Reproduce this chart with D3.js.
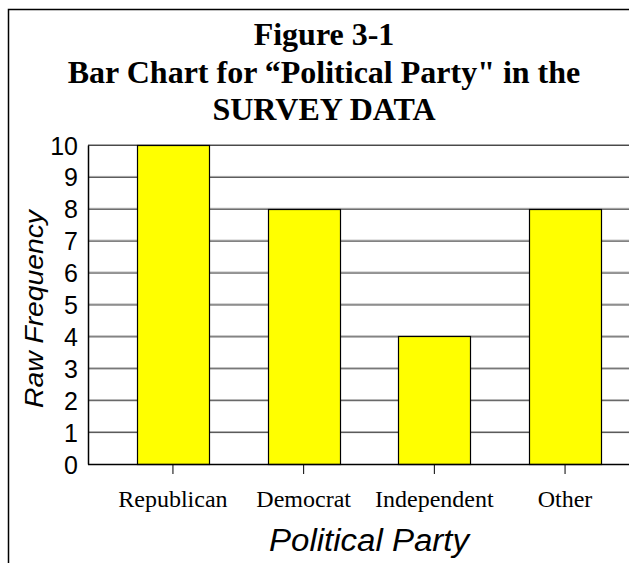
<!DOCTYPE html>
<html>
<head>
<meta charset="utf-8">
<script src="https://cdn.jsdelivr.net/npm/d3@7"></script>
<style>
  html, body { margin: 0; padding: 0; background: #fff; }
  svg { display: block; }
</style>
</head>
<body>
<svg id="chart" width="629" height="563"></svg>
<script>
const categories = ["Republican", "Democrat", "Independent", "Other"];
const frequencies = [10, 8, 4, 8];
const yTicks = [0, 1, 2, 3, 4, 5, 6, 7, 8, 9, 10];
const titleLines = ["Figure 3-1", "Bar Chart for \u201CPolitical Party\" in the", "SURVEY DATA"];
const xTitle = "Political Party";
const yTitle = "Raw Frequency";

const svg = d3.select("#chart");
const W = 629, H = 563;
const plot = { left: 88, top: 145, bottom: 464, right: 629 };

svg.append("rect").attr("width", W).attr("height", H).attr("fill", "#fff");

// outer frame (left + top)
svg.append("path")
  .attr("d", `M8.5,${H} V9.5 H${W}`)
  .attr("fill", "none").attr("stroke", "#000").attr("stroke-width", 1.5);

const x = d3.scaleBand().domain(categories).range([107.6, 630.4])
  .paddingInner(0.45).paddingOuter(0.225);
const y = d3.scaleLinear().domain([0, 10]).range([plot.bottom, plot.top]);

// gridlines (two-tone)
const grid = svg.append("g");
yTicks.filter(d => d > 0).forEach(d => {
  grid.append("line").attr("x1", plot.left).attr("x2", plot.right)
    .attr("y1", y(d) - 0.5).attr("y2", y(d) - 0.5)
    .attr("stroke", "#a8a8a8").attr("stroke-width", 1);
  grid.append("line").attr("x1", plot.left).attr("x2", plot.right)
    .attr("y1", y(d) + 0.5).attr("y2", y(d) + 0.5)
    .attr("stroke", "#4a4a4a").attr("stroke-width", 1);
});

// bars
svg.append("g").selectAll("rect").data(categories).join("rect")
  .attr("x", d => Math.round(x(d)) + 0.5)
  .attr("y", (d, i) => Math.round(y(frequencies[i])) + 0.5)
  .attr("width", Math.round(x.bandwidth()))
  .attr("height", (d, i) => Math.round(y(0)) - Math.round(y(frequencies[i])))
  .attr("fill", "#ffff00")
  .attr("stroke", "#000").attr("stroke-width", 1.2);

// y axis
const yAxis = d3.axisLeft(y).tickValues(yTicks).tickSize(0).tickPadding(10)
  .tickFormat(d3.format("d"));
const gy = svg.append("g").attr("transform", `translate(${plot.left},0)`).call(yAxis);
gy.select(".domain").attr("stroke", "#000").attr("stroke-width", 1.5);
gy.selectAll("text").attr("font-family", "'Liberation Sans', Arial, sans-serif")
  .attr("font-size", 25).attr("fill", "#000").attr("dy", "0.36em");

// x axis
const xAxis = d3.axisBottom(x).tickSize(10).tickPadding(16).tickSizeOuter(0);
const gx = svg.append("g").attr("transform", `translate(0,${plot.bottom})`).call(xAxis);
gx.select(".domain").attr("d", `M${plot.left},0.5H${plot.right}`)
  .attr("stroke", "#000").attr("stroke-width", 1.5);
gx.selectAll(".tick line").attr("stroke", "#000").attr("stroke-width", 1);
gx.selectAll("text").attr("font-family", "'Liberation Serif', 'Times New Roman', serif")
  .attr("font-size", 24).attr("fill", "#000");

// titles
const title = svg.append("g").attr("font-family", "'Liberation Serif', 'Times New Roman', serif")
  .attr("font-weight", "bold").attr("font-size", 32).attr("text-anchor", "middle");
const baselines = [45, 83, 120];
titleLines.forEach((t, i) => {
  title.append("text").attr("x", 324).attr("y", baselines[i]).text(t);
});

svg.append("text")
  .attr("x", 369).attr("y", 551)
  .attr("text-anchor", "middle")
  .attr("font-family", "'Liberation Sans', Arial, sans-serif")
  .attr("font-style", "italic").attr("font-size", 31)
  .attr("textLength", 200).attr("lengthAdjust", "spacingAndGlyphs")
  .text(xTitle);

svg.append("text")
  .attr("transform", "translate(43,309) rotate(-90)")
  .attr("text-anchor", "middle")
  .attr("font-family", "'Liberation Sans', Arial, sans-serif")
  .attr("font-style", "italic").attr("font-size", 26)
  .attr("textLength", 198).attr("lengthAdjust", "spacingAndGlyphs")
  .text(yTitle);
</script>
</body>
</html>
